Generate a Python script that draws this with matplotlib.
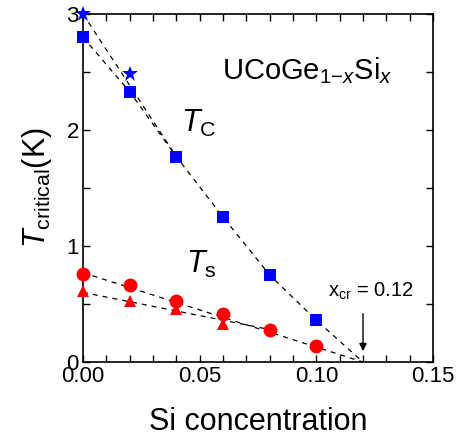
import matplotlib
matplotlib.use("Agg")
import matplotlib.pyplot as plt
from matplotlib.ticker import MultipleLocator

plt.rcParams['font.family'] = ['Liberation Sans', 'DejaVu Sans']
plt.rcParams['mathtext.fontset'] = 'custom'
plt.rcParams['mathtext.rm'] = 'Liberation Sans'
plt.rcParams['mathtext.it'] = 'Liberation Sans:italic'
plt.rcParams['mathtext.sf'] = 'Liberation Sans'

# Data
x_sq = [0.00, 0.02, 0.04, 0.06, 0.08, 0.10]
tc_sq = [2.80, 2.33, 1.77, 1.25, 0.75, 0.36]
x_star = [0.00, 0.02]
tc_star = [3.00, 2.48]
x_circ = [0.00, 0.02, 0.04, 0.06, 0.08, 0.10]
ts_circ = [0.76, 0.66, 0.53, 0.41, 0.28, 0.14]
x_tri = [0.00, 0.02, 0.04, 0.06]
ts_tri = [0.61, 0.53, 0.46, 0.33]

# guide lines
x_tc_line = [0.00, 0.02, 0.04, 0.06, 0.08, 0.10, 0.12]
y_tc_line = [2.80, 2.33, 1.77, 1.25, 0.75, 0.36, 0.00]
x_star_line = [0.00, 0.04]
y_star_line = [3.00, 1.77]
x_circ_line = [0.00, 0.12]
y_circ_line = [0.77, 0.00]
x_tri_line = [0.00, 0.08]
y_tri_line = [0.60, 0.28]
x_cr = 0.12

fig = plt.figure(figsize=(4.6, 4.37), dpi=100)
ax = fig.add_axes([0.1804, 0.1716, 0.7609, 0.7964])

dash = dict(color='black', lw=0.9, ls=(0, (4, 4)), zorder=1)
ax.plot(x_tc_line, y_tc_line, **dash)
ax.plot(x_star_line, y_star_line, **dash)
ax.plot(x_circ_line, y_circ_line, **dash)
ax.plot(x_tri_line, y_tri_line, **dash)

ax.plot(x_sq, tc_sq, 's', color='#0000ff', ms=8.5, mew=0, zorder=3, clip_on=False)
ax.plot(x_star, tc_star, '*', color='#0000ff', ms=12, mew=0, zorder=3, clip_on=False)
ax.plot(x_tri, ts_tri, '^', color='#ff0000', ms=9, mew=0, zorder=3, clip_on=False)
ax.plot(x_circ, ts_circ, 'o', color='#ff0000', ms=10, mew=0, zorder=4, clip_on=False)

ax.set_xlim(0, 0.15)
ax.set_ylim(0, 3)
ax.xaxis.set_major_locator(MultipleLocator(0.05))
ax.xaxis.set_minor_locator(MultipleLocator(0.01))
ax.yaxis.set_major_locator(MultipleLocator(1))
ax.yaxis.set_minor_locator(MultipleLocator(0.5))
ax.set_xticks([0, 0.05, 0.10, 0.15])
ax.set_xticklabels(['0.00', '0.05', '0.10', '0.15'])
ax.tick_params(which='both', direction='in', top=True, right=True, width=1.0)
ax.tick_params(which='major', length=5, labelsize=16, pad=3)
ax.tick_params(which='minor', length=5)
for s in ax.spines.values():
    s.set_linewidth(1.2)

ax.set_xlabel('Si concentration', fontsize=22, labelpad=14)
ax.set_ylabel(r'$T_{\mathrm{critical}}$(K)', fontsize=22, labelpad=9)

ax.text(0.0596, 2.44, r'UCoGe$_{1\mathrm{-}x}$Si$_{x}$', fontsize=21)
ax.text(0.042, 1.98, r'$T_{\mathrm{C}}$', fontsize=22)
ax.text(0.044, 0.77, r'$T_{\mathrm{s}}$', fontsize=22)
ax.text(0.105, 0.56, r'x$_{\mathrm{cr}}$ = 0.12', fontsize=14.5)
ax.annotate('', xy=(x_cr, 0.07), xytext=(x_cr, 0.44),
            arrowprops=dict(arrowstyle='-|>', color='black', lw=1, mutation_scale=11))

fig.savefig('out.png', dpi=100)
